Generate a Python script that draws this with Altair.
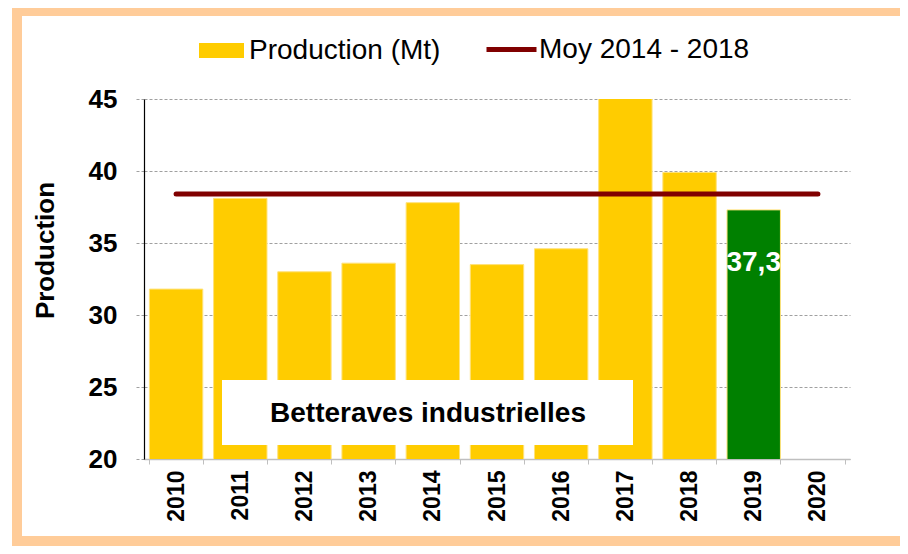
import altair as alt
import pandas as pd

FONT = "Liberation Sans"

years = ["2010", "2011", "2012", "2013", "2014", "2015", "2016", "2017", "2018", "2019", "2020"]
production = [31.8, 38.1, 33.0, 33.6, 37.8, 33.5, 34.6, 45.9, 39.9, 37.3, None]
bar_kind = ["Production (Mt)"] * 9 + ["2019", "2019"]
value_labels = ["", "", "", "", "", "", "", "", "", "37,3", ""]

avg_label = "Moy 2014 - 2018"
avg_years = ["2010", "2020"]
avg_values = [38.4, 38.4]

box_text = ["Betteraves industrielles"]

df = pd.DataFrame({"year": years, "value": production, "kind": bar_kind, "label": value_labels})
df = df.dropna(subset=["value"])
df_avg = pd.DataFrame({"year": avg_years, "value": avg_values, "moy": [avg_label] * 2})
df_lab = df[df["label"] != ""]
df_box = pd.DataFrame({"t": box_text})

x_enc = alt.X(
    "year:N",
    scale=alt.Scale(domain=years, paddingInner=0.168, paddingOuter=0.084),
    title=None,
    axis=alt.Axis(
        labelAngle=270, labelFontSize=23, labelFontWeight="bold", labelFont=FONT,
        labelColor="black", labelPadding=6, tickBand="extent", tickSize=5,
        tickColor="#BFBFBF", domainColor="#BFBFBF", domainWidth=1.5, grid=False,
        labelBaseline="middle", labelAlign="right",
    ),
)
y_scale = alt.Scale(domain=[20, 45], nice=False, zero=False)
y_enc = alt.Y(
    "value:Q",
    scale=y_scale,
    title="Production",
    axis=alt.Axis(
        values=[20, 25, 30, 35, 40, 45], labelFontSize=26, labelFontWeight="bold",
        labelFont=FONT, labelColor="black", labelPadding=19, tickSize=8,
        tickColor="#A0A0A0", tickDash=[3, 2], domainColor="black", domainWidth=1.2,
        grid=True, gridColor="#A0A0A0", gridDash=[3, 2], gridWidth=1,
        titleFont=FONT, titleFontSize=26, titleFontWeight="bold", titleColor="black",
        titleX=-99, titleY=151, titleAngle=270, titleBaseline="middle", titleAlign="center",
    ),
)

frame = alt.Chart(df_box).mark_rect(fill="white", fillOpacity=0, stroke="#FFCC99", strokeWidth=10).encode(
    x=alt.value(-127), x2=alt.value(761), y=alt.value(-88), y2=alt.value(442)
)

bars = alt.Chart(df).mark_bar(clip=True, stroke="#FFE27A", strokeWidth=1).encode(
    x=x_enc,
    y=y_enc,
    color=alt.Color(
        "kind:N",
        scale=alt.Scale(domain=["Production (Mt)", "2019"], range=["#FFCC00", "#008000"]),
        legend=alt.Legend(
            orient="none", legendX=55, legendY=-71, values=["Production (Mt)"], title=None,
            symbolType="M-1,-0.33H1V0.33H-1Z", symbolSize=2025, symbolStrokeWidth=0,
            labelFontSize=28, labelFont=FONT, labelColor="black", labelOffset=5, padding=0,
            labelLimit=0,
        ),
    ),
)

avg_line = alt.Chart(df_avg).mark_line(strokeWidth=5, strokeCap="round").encode(
    x=alt.X("year:N", scale=alt.Scale(domain=years)),
    y=alt.Y("value:Q", scale=y_scale),
    stroke=alt.Stroke(
        "moy:N",
        scale=alt.Scale(domain=[avg_label], range=["#800000"]),
        legend=alt.Legend(
            orient="none", legendX=340, legendY=-77, title=None,
            symbolType="M-1,0H1", symbolSize=2500, symbolStrokeWidth=5,
            labelFontSize=28, labelFont=FONT, labelColor="black", labelOffset=0, padding=0,
            labelLimit=0,
        ),
    ),
)

box = alt.Chart(df_box).mark_rect(fill="white").encode(
    x=alt.value(78), x2=alt.value(489), y=alt.value(281), y2=alt.value(346)
)
box_label = alt.Chart(df_box).mark_text(
    font=FONT, fontSize=28, fontWeight="bold", color="black", align="center", baseline="middle"
).encode(x=alt.value(284), y=alt.value(315), text="t:N")

value_text = alt.Chart(df_lab).mark_text(
    font=FONT, fontSize=28, fontWeight="bold", color="white", align="center", baseline="middle", dy=53
).encode(
    x=alt.X("year:N", scale=alt.Scale(domain=years)),
    y=alt.Y("value:Q", scale=y_scale),
    text="label:N",
)

chart = alt.layer(frame, bars, avg_line, box, box_label, value_text).properties(
    width=706,
    height=360,
    autosize=alt.AutoSizeParams(type="none"),
    padding={"left": 136, "top": 91, "right": 50, "bottom": 87},
    background="white",
).configure_view(stroke=None).configure_legend(direction="horizontal")

chart.save("out.html", embed_options={"renderer": "svg", "actions": False})
